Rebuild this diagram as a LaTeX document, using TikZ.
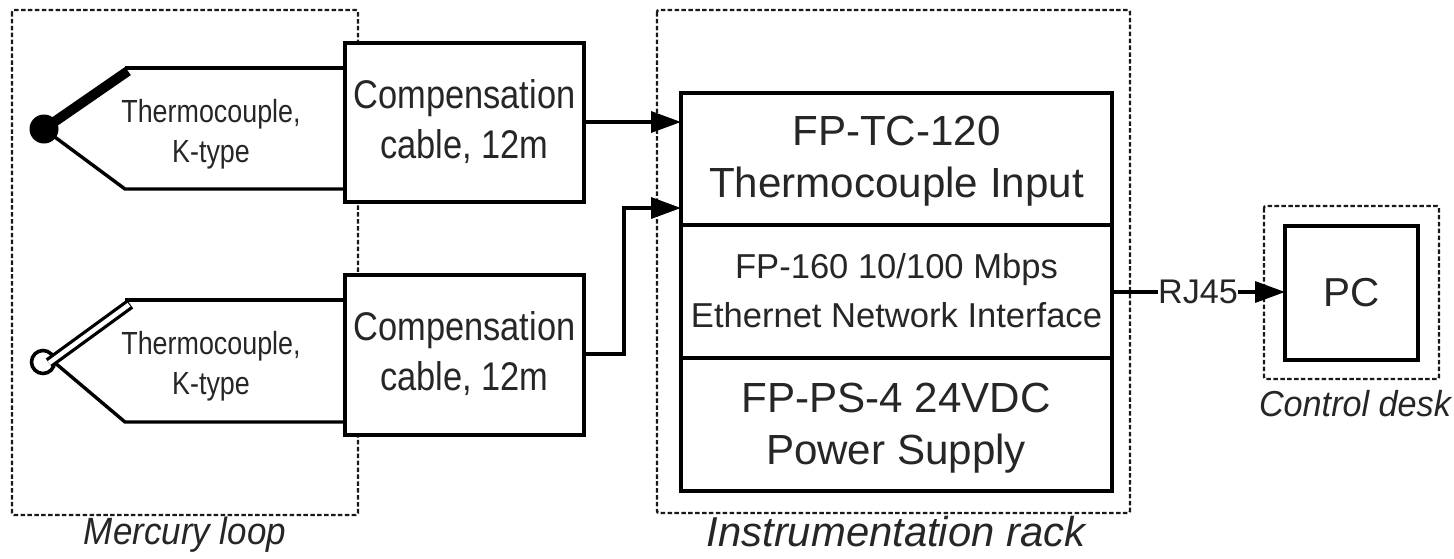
\documentclass[tikz,border=0pt]{standalone}
\usepackage{fontspec}
\setmainfont{Liberation Sans}
\usetikzlibrary{arrows.meta}
\tikzset{
  every node/.style={inner sep=0pt,outer sep=0pt,align=center,text=black!85},
  group/.style={draw=black!90,line width=2.4pt,dash pattern=on 4.5pt off 2.4pt,rounded corners=2pt},
  block/.style={draw=black,line width=3.6pt,fill=white},
  wire/.style={draw=black,line width=3.4pt},
  flow/.style={wire,-{Triangle[length=30pt,width=21pt]}},
  big/.style={font=\fontsize{43}{53}\selectfont},
  comp/.style={font=\fontsize{43}{53}\selectfont,xscale=0.8,yscale=0.93},
  mid/.style={font=\fontsize{36}{51}\selectfont},
  small/.style={font=\fontsize{32}{40}\selectfont\addfontfeature{FakeStretch=0.84}},
  cap label/.style={font=\fontsize{38}{44}\selectfont\itshape}
}
\begin{document}
\begin{tikzpicture}[x=1pt,y=-1pt]
\useasboundingbox (0,0) rectangle (1454,558);
\draw[group] (12,10) rectangle (358,515);
\draw[group] (657,10) rectangle (1130,513);
\draw[group] (1264,206) rectangle (1439,379);
\coordinate (t1) at (125,68);
\coordinate (b1) at (125,189);
\coordinate (t2) at (125,300);
\coordinate (b2) at (125,422);
\node[block,minimum width=239pt,minimum height=159pt] (c1) at (464.5,122.5) {};
\node[comp] at (464.5,121.5) {Compensation\\cable, 12m};
\node[block,minimum width=239pt,minimum height=160pt] (c2) at (464.5,355) {};
\node[comp] at (464.5,353.5) {Compensation\\cable, 12m};
\coordinate (c1t) at (345,68);
\coordinate (c1b) at (345,189);
\coordinate (c2t) at (345,300);
\coordinate (c2b) at (345,422);
\node[circle,fill=black,minimum size=29pt] (j1) at (44,129) {};
\draw[wire] (c1t) -- (t1);
\draw[wire] (c1b) -- (b1) -- (j1.center);
\draw[black,line width=10pt] (j1.center) -- (128,71);
\node[circle,draw=black,line width=3.6pt,fill=white,minimum size=23pt] (j2) at (43,362) {};
\draw[wire] (c2t) -- (t2);
\draw[wire] (c2b) -- (b2) -- (54,362);
\draw[black,line width=11pt] (49,363) -- (130,304);
\draw[white,line width=4.5pt] (49,363) -- (129,304.7);
\node[small] (tl1) at (211,134) {Thermocouple,\\K-type};
\node[small] (tl2) at (211,366) {Thermocouple,\\K-type};
\node[block,minimum width=431pt,minimum height=132pt] (fp1) at (896.5,159) {};
\node[block,minimum width=431pt,minimum height=133pt] (fp2) at (896.5,291.5) {};
\node[block,minimum width=431pt,minimum height=133pt] (fp3) at (896.5,424.5) {};
\node[big,scale=0.98] at (896.5,161) {FP-TC-120\\Thermocouple Input};
\node[mid,scale=0.96] at (896.5,291) {FP-160 10/100 Mbps\\Ethernet Network Interface};
\node[big,scale=0.98] at (896,428) {FP-PS-4 24VDC\\Power Supply};
\node[block,minimum width=133pt,minimum height=134pt] (pc) at (1351.5,293) {};
\node[big,scale=0.94] at (pc) {PC};
\coordinate (in1) at (fp1.west |- 0,122);
\coordinate (in2) at (fp1.west |- 0,208);
\coordinate (m) at (624,354);
\draw[flow] (584,122) -- (in1);
\draw[flow] (584,354) -- (m) -- (624,208) -- (in2);
\node[mid,scale=0.95] (rj) at (1198,292) {RJ45};
\coordinate (e1) at (1112,292);
\draw[wire] (e1) -- (rj.west);
\draw[flow] (rj.east) -- (pc.west |- rj);
\node[cap label,xscale=0.92,yscale=1.0] at (185,535) {Mercury loop};
\node[cap label,xscale=1.1,yscale=1.1] at (896,532) {Instrumentation rack};
\node[cap label,xscale=0.9,yscale=0.95] at (1355,404) {Control desk};
\end{tikzpicture}
\end{document}
